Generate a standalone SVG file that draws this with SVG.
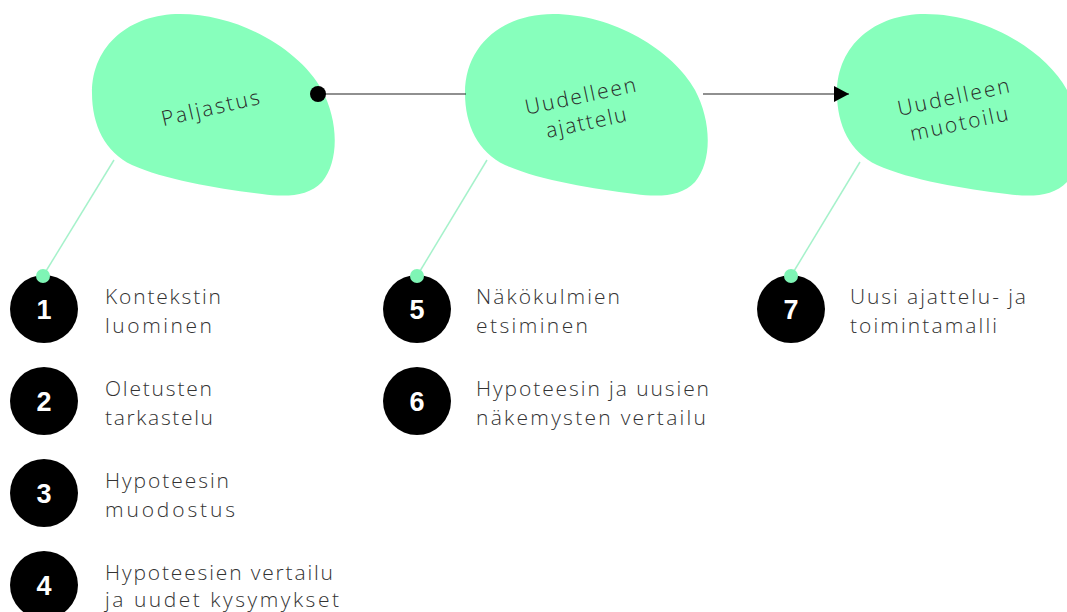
<svg xmlns="http://www.w3.org/2000/svg" width="1067" height="612" viewBox="0 0 1067 612">
<style>
.blob{fill:#87ffbc}
.blabel{font-family:"Open Sans","Liberation Sans",sans-serif;font-weight:300;font-size:21px;fill:#2a2a2a;text-anchor:middle}
.num{fill:#000}
.numt{font-family:"Liberation Sans",sans-serif;font-weight:bold;font-size:27px;fill:#fff;text-anchor:middle}
.lbl{font-family:"Open Sans","Liberation Sans",sans-serif;font-weight:300;font-size:21px;fill:#333}
.pin{stroke:#a6f2cb;stroke-width:1.5;fill:none}
.pdot{fill:#7ff5b5}
.conn{stroke:#222;stroke-width:1.2;fill:none}
</style>
<defs>
<path id="blobshape" d="M 92,93 C 92,45 130,14 180,14 C 240,14 300,50 322,90 C 338,120 340,160 322,182 C 308,197 285,197 262,194 C 220,189 165,180 132,165 C 105,152 92,125 92,93 Z"/>
<marker id="arr" markerWidth="16" markerHeight="16" refX="15" refY="8" orient="auto" markerUnits="userSpaceOnUse">
<path d="M0,0 L15,8 L0,16 Z" fill="#000"/>
</marker>
</defs>
<g id="node-paljastus">
<use href="#blobshape" class="blob"/>
<text class="blabel" transform="translate(212,115) rotate(-13)" textLength="100" lengthAdjust="spacing">Paljastus</text>
</g>
<g id="node-ajattelu">
<use href="#blobshape" class="blob" transform="translate(373,0)"/>
<text class="blabel" transform="translate(583,108) rotate(-12)"><tspan x="0" y="-5" textLength="113" lengthAdjust="spacing">Uudelleen</tspan><tspan x="0" y="22" textLength="82" lengthAdjust="spacing">ajattelu</tspan></text>
</g>
<g id="node-muotoilu">
<use href="#blobshape" class="blob" transform="translate(745,0)"/>
<text class="blabel" transform="translate(956,109) rotate(-12)"><tspan x="0" y="-5" textLength="114" lengthAdjust="spacing">Uudelleen</tspan><tspan x="0" y="22" textLength="100" lengthAdjust="spacing">muotoilu</tspan></text>
</g>
<g id="connectors">
<line class="pin" x1="114" y1="160" x2="43" y2="276"/>
<line class="pin" x1="487" y1="160" x2="417" y2="276"/>
<line class="pin" x1="860" y1="162" x2="791" y2="276"/>
<line class="conn" x1="318" y1="94" x2="466" y2="94"/>
<line class="conn" x1="703" y1="94" x2="849" y2="94" marker-end="url(#arr)"/>
<circle cx="318" cy="94" r="8" fill="#000"/>
</g>
<g id="step1"><circle class="num" cx="44" cy="309" r="34"/><text class="numt" x="44" y="319">1</text><text class="lbl" x="105" y="304" textLength="116" lengthAdjust="spacing">Kontekstin</text><text class="lbl" x="105" y="333" textLength="107" lengthAdjust="spacing">luominen</text></g>
<g id="step2"><circle class="num" cx="44" cy="401" r="34"/><text class="numt" x="44" y="411">2</text><text class="lbl" x="105" y="396" textLength="107" lengthAdjust="spacing">Oletusten</text><text class="lbl" x="105" y="425" textLength="108" lengthAdjust="spacing">tarkastelu</text></g>
<g id="step3"><circle class="num" cx="44" cy="493" r="34"/><text class="numt" x="44" y="503">3</text><text class="lbl" x="105" y="488" textLength="124" lengthAdjust="spacing">Hypoteesin</text><text class="lbl" x="105" y="517" textLength="130" lengthAdjust="spacing">muodostus</text></g>
<g id="step4"><circle class="num" cx="44" cy="585" r="34"/><text class="numt" x="44" y="595">4</text><text class="lbl" x="105" y="580" textLength="228" lengthAdjust="spacing">Hypoteesien vertailu</text><text class="lbl" x="105" y="607" textLength="234" lengthAdjust="spacing">ja uudet kysymykset</text></g>
<g id="step5"><circle class="num" cx="417" cy="309" r="34"/><text class="numt" x="417" y="319">5</text><text class="lbl" x="476" y="304" textLength="144" lengthAdjust="spacing">Näkökulmien</text><text class="lbl" x="476" y="333" textLength="112" lengthAdjust="spacing">etsiminen</text></g>
<g id="step6"><circle class="num" cx="417" cy="401" r="34"/><text class="numt" x="417" y="411">6</text><text class="lbl" x="476" y="396" textLength="233" lengthAdjust="spacing">Hypoteesin ja uusien</text><text class="lbl" x="476" y="425" textLength="230" lengthAdjust="spacing">näkemysten vertailu</text></g>
<g id="step7"><circle class="num" cx="791" cy="309" r="34"/><text class="numt" x="791" y="319">7</text><text class="lbl" x="850" y="304" textLength="176" lengthAdjust="spacing">Uusi ajattelu- ja</text><text class="lbl" x="850" y="333" textLength="147" lengthAdjust="spacing">toimintamalli</text></g>
<g id="pin-dots">
<circle class="pdot" cx="43" cy="276" r="7"/>
<circle class="pdot" cx="417" cy="276" r="7"/>
<circle class="pdot" cx="791" cy="276" r="7"/>
</g>
</svg>
